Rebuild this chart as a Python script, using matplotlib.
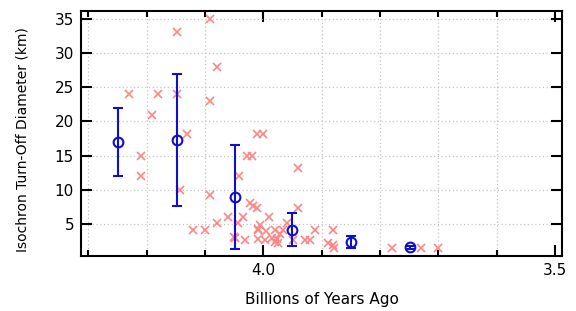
import numpy as np
import matplotlib.pyplot as plt
from matplotlib.ticker import MultipleLocator

# individual basin measurements (age in Gyr ago, turn-off diameter in km)
ages = [4.231, 4.210, 4.210, 4.190, 4.180, 4.148, 4.148, 4.131, 4.142, 4.120,
        4.100, 4.091, 4.080, 4.091, 4.091, 4.080, 4.060, 4.041, 4.028, 4.020,
        4.010, 4.000, 4.034, 4.043, 4.023, 4.011, 4.009, 4.051, 4.031, 4.009,
        3.995, 3.980, 3.966, 4.006, 3.991, 4.009, 3.997, 3.985, 3.975, 3.980,
        3.941, 3.940, 3.960, 3.977, 3.972, 3.949, 3.911, 3.929, 3.920, 3.880,
        3.889, 3.880, 3.879, 3.779, 3.730, 3.700, 4.049, 4.017]
diams = [24.0, 15.0, 12.0, 21.0, 24.0, 33.0, 24.0, 18.2, 10.0, 4.2,
         4.2, 35.0, 28.0, 23.0, 9.2, 5.1, 6.1, 12.0, 15.0, 15.0,
         18.2, 18.2, 6.1, 5.1, 8.1, 7.3, 4.3, 3.2, 2.7, 2.9,
         4.0, 4.2, 4.2, 4.9, 6.1, 4.1, 2.7, 3.0, 2.3, 2.4,
         13.2, 7.3, 5.1, 2.9, 3.6, 2.7, 4.2, 2.7, 2.7, 4.2,
         2.2, 1.9, 1.5, 1.5, 1.5, 1.5, 3.0, 7.6]

# binned averages with error bars
bin_ages = [4.249, 4.148, 4.049, 3.950, 3.850, 3.749]
bin_diams = [17.0, 17.3, 9.0, 4.2, 2.4, 1.6]
bin_errs = [5.0, 9.6, 7.6, 2.4, 0.85, 0.15]

plt.rcParams['font.family'] = ['DejaVu Sans']

fig = plt.figure(figsize=(5.76, 3.11), dpi=100)
ax = fig.add_axes([0.1406, 0.1778, 0.8351, 0.7868])

ax.plot(ages, diams, 'x', color='#ff8484', markersize=6, markeredgewidth=1.2, zorder=2)
ax.errorbar(bin_ages, bin_diams, yerr=bin_errs, fmt='o', color='#1010cc',
            mfc='none', markersize=7, markeredgewidth=1.5, elinewidth=1.5,
            capsize=3.8, capthick=1.5, zorder=3)

ax.set_xlim(4.3125, 3.488)
ax.set_ylim(0.4, 36.1)

ax.xaxis.set_major_locator(MultipleLocator(0.5))
ax.xaxis.set_minor_locator(MultipleLocator(0.1))
ax.yaxis.set_major_locator(MultipleLocator(5))
ax.xaxis.set_major_formatter(plt.FuncFormatter(lambda v, p: f"{v:.1f}"))

# fine dotted grid
ax.grid(True, which='minor', axis='x', linestyle=(0, (1, 2)), color='#c4c4c4', linewidth=0.9)
ax.grid(True, which='major', axis='y', linestyle=(0, (1, 2)), color='#c4c4c4', linewidth=0.9)
ax.set_axisbelow(True)

ax.tick_params(which='both', direction='in', top=True, right=True, width=1.5, labelsize=11)
ax.tick_params(which='major', length=8, pad=5)
ax.tick_params(which='minor', length=4)
for s in ax.spines.values():
    s.set_linewidth(1.5)

ax.set_xlabel("Billions of Years Ago", fontsize=11, labelpad=10)
ax.set_ylabel("Isochron Turn-Off Diameter (km)", fontsize=10)
ax.yaxis.set_label_coords(-0.108, 0.473)

plt.savefig("out.png", dpi=100)
